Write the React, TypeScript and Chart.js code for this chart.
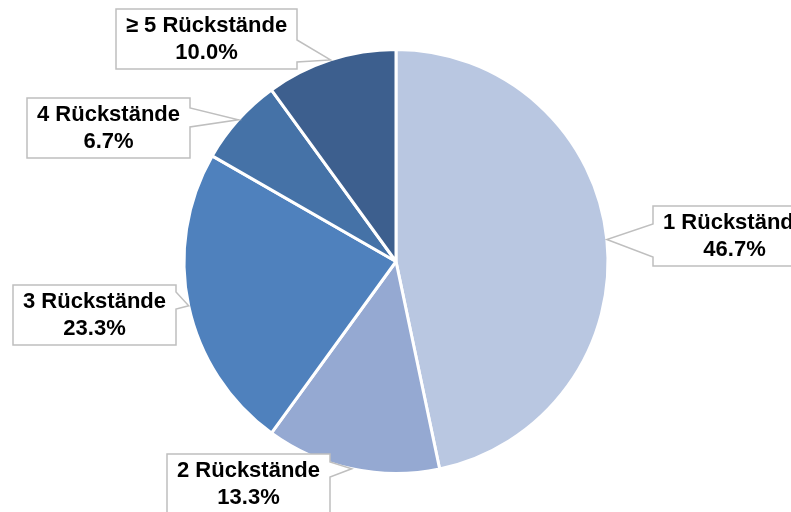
import React, { useEffect, useRef } from "react";
import { Chart, registerables } from "chart.js";

Chart.register(...registerables);

const categories = ["1 Rückstände", "2 Rückstände", "3 Rückstände", "4 Rückstände", "≥ 5 Rückstände"];
const shares = [46.7, 13.3, 23.3, 6.7, 10.0];
const sliceColors = ["#B9C7E1", "#95A9D2", "#4F81BD", "#4572A7", "#3D5F8E"];

// callout box placement (styling only): x, y, w, h and tail base span on the box side
const calloutBoxes = [
  { x: 653, y: 206, w: 163, h: 60, b0: 224, b1: 257 },
  { x: 167, y: 454, w: 163, h: 60, b0: 462, b1: 477 },
  { x: 13, y: 285, w: 163, h: 60, b0: 292, b1: 309 },
  { x: 27, y: 98, w: 163, h: 60, b0: 108, b1: 127 },
  { x: 116, y: 9, w: 181, h: 60, b0: 40, b1: 62 },
];

const calloutPlugin = {
  id: "callouts",
  afterDatasetsDraw(chart: any) {
    const ctx = chart.ctx;
    const meta = chart.getDatasetMeta(0);
    meta.data.forEach((arc: any, i: number) => {
      const p = arc.getProps(["x", "y", "startAngle", "endAngle", "outerRadius"], true);
      const mid = (p.startAngle + p.endAngle) / 2;
      const tx = p.x + p.outerRadius * Math.cos(mid);
      const ty = p.y + p.outerRadius * Math.sin(mid);
      const b = calloutBoxes[i];
      const L = b.x, T = b.y, R = b.x + b.w, B = b.y + b.h;
      ctx.save();
      ctx.beginPath();
      ctx.moveTo(L, T);
      ctx.lineTo(R, T);
      if (tx > R) {
        ctx.lineTo(R, b.b0);
        ctx.lineTo(tx, ty);
        ctx.lineTo(R, b.b1);
      }
      ctx.lineTo(R, B);
      ctx.lineTo(L, B);
      if (tx < L) {
        ctx.lineTo(L, b.b1);
        ctx.lineTo(tx, ty);
        ctx.lineTo(L, b.b0);
      }
      ctx.closePath();
      ctx.fillStyle = "#FFFFFF";
      ctx.fill();
      ctx.strokeStyle = "#BFBFBF";
      ctx.lineWidth = 1.5;
      ctx.stroke();

      ctx.fillStyle = "#000000";
      ctx.font = "bold 22px 'Liberation Sans', Arial, sans-serif";
      ctx.textAlign = "center";
      ctx.textBaseline = "middle";
      const cx = (L + R) / 2;
      const cy = (T + B) / 2;
      ctx.fillText(categories[i], cx, cy - 13);
      ctx.fillText(shares[i].toFixed(1) + "%", cx, cy + 14);
      ctx.restore();
    });
  },
};

export default function App() {
  const ref = useRef<HTMLCanvasElement>(null);
  useEffect(() => {
    document.body.style.margin = "0";
    const chart = new Chart(ref.current as HTMLCanvasElement, {
      type: "pie",
      data: {
        labels: categories,
        datasets: [
          {
            data: shares,
            backgroundColor: sliceColors,
            borderColor: "#FFFFFF",
            borderWidth: 3,
            hoverOffset: 0,
          },
        ],
      },
      options: {
        responsive: false,
        animation: false,
        devicePixelRatio: 1,
        layout: { padding: { top: 48, bottom: 37, left: 100, right: 99 } },
        plugins: {
          legend: { display: false },
          tooltip: { enabled: false },
        },
      },
      plugins: [calloutPlugin],
    } as any);
    return () => chart.destroy();
  }, []);
  return (
    <div style={{ position: "fixed", left: 0, top: 0, width: 791, height: 512, background: "#FFFFFF" }}>
      <canvas ref={ref} width={791} height={512} />
    </div>
  );
}
